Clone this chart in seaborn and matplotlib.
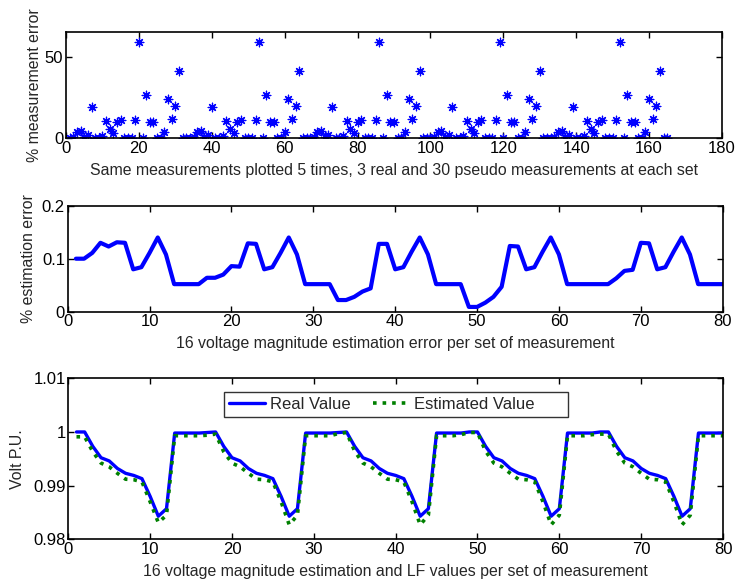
import numpy as np
import pandas as pd
import matplotlib
matplotlib.use("Agg")
import matplotlib.pyplot as plt
import seaborn as sns

# ---------------- data ----------------
# % measurement error of one set of 33 measurements (3 real + 30 pseudo)
set_errors = [0.0, 0.5, 4.0, 4.5, 0.5, 2.0, 19.0, 0.0, 0.0, 1.5,
              10.5, 6.0, 3.0, 10.0, 11.5, 0.0, 0.0, 0.0, 11.5, 59.0,
              0.0, 26.5, 10.0, 10.0, 0.0, 0.0, 4.0, 24.0, 12.0, 20.0,
              41.5, 0.0, 0.0]
n_repeats = 5

est_error = [0.100, 0.100, 0.111, 0.130, 0.123, 0.131, 0.130, 0.080, 0.084, 0.111,
             0.140, 0.108, 0.052, 0.052, 0.052, 0.052, 0.064, 0.064, 0.070, 0.086,
             0.085, 0.129, 0.128, 0.080, 0.084, 0.111, 0.140, 0.108, 0.052, 0.052,
             0.052, 0.052, 0.022, 0.022, 0.028, 0.038, 0.044, 0.128, 0.128, 0.080,
             0.084, 0.113, 0.140, 0.108, 0.052, 0.052, 0.052, 0.052, 0.009, 0.009,
             0.017, 0.028, 0.047, 0.124, 0.123, 0.080, 0.084, 0.113, 0.140, 0.108,
             0.052, 0.052, 0.052, 0.052, 0.052, 0.052, 0.063, 0.077, 0.079, 0.130,
             0.129, 0.080, 0.084, 0.113, 0.140, 0.108, 0.052, 0.052, 0.052, 0.052]

real_value = [1.0000, 1.0000,
              0.9973, 0.9952, 0.9946, 0.9932, 0.9923, 0.9919, 0.9913, 0.9880, 0.9843, 0.9857,
              0.9998, 0.9998, 0.9998, 0.9998, 0.9999, 1.0000,
              0.9973, 0.9952, 0.9946, 0.9932, 0.9923, 0.9919, 0.9913, 0.9880, 0.9843, 0.9857,
              0.9998, 0.9998, 0.9998, 0.9998, 0.9999, 1.0000,
              0.9973, 0.9952, 0.9946, 0.9932, 0.9923, 0.9919, 0.9913, 0.9880, 0.9843, 0.9857,
              0.9998, 0.9998, 0.9998, 0.9998, 1.0000, 1.0000,
              0.9973, 0.9952, 0.9946, 0.9932, 0.9923, 0.9919, 0.9913, 0.9880, 0.9843, 0.9857,
              0.9998, 0.9998, 0.9998, 0.9998, 1.0000, 1.0000,
              0.9973, 0.9952, 0.9946, 0.9932, 0.9923, 0.9919, 0.9913, 0.9880, 0.9843, 0.9857,
              0.9998, 0.9998, 0.9998, 0.9998]

estimated_value = [0.9991, 0.9991,
                   0.9963, 0.9942, 0.9935, 0.9923, 0.9912, 0.9911, 0.9907, 0.9870, 0.9831, 0.9845,
                   0.9993, 0.9993, 0.9993, 0.9993, 0.9994, 0.9996,
                   0.9963, 0.9942, 0.9935, 0.9923, 0.9912, 0.9911, 0.9907, 0.9870, 0.9827, 0.9845,
                   0.9993, 0.9993, 0.9993, 0.9993, 0.9997, 0.9999,
                   0.9964, 0.9942, 0.9935, 0.9923, 0.9912, 0.9911, 0.9907, 0.9870, 0.9827, 0.9845,
                   0.9993, 0.9993, 0.9993, 0.9995, 0.9999, 0.9999,
                   0.9964, 0.9942, 0.9935, 0.9923, 0.9912, 0.9911, 0.9907, 0.9870, 0.9827, 0.9845,
                   0.9993, 0.9993, 0.9993, 0.9995, 0.9996, 0.9996,
                   0.9964, 0.9942, 0.9935, 0.9923, 0.9912, 0.9911, 0.9907, 0.9870, 0.9827, 0.9845,
                   0.9993, 0.9993, 0.9993, 0.9993]

top_xticks = [0, 20, 40, 60, 80, 100, 120, 140, 160, 180]
top_yticks = [0, 50]
mid_xticks = [0, 10, 20, 30, 40, 50, 60, 70, 80]
mid_yticks = [0, 0.1, 0.2]
mid_yticklabels = ["0", "0.1", "0.2"]
bot_yticks = [0.98, 0.99, 1.0, 1.01]
bot_yticklabels = ["0.98", "0.99", "1", "1.01"]

# ---------------- style ----------------
sns.set_theme(style="white")
plt.rcParams["font.family"] = ["Liberation Sans", "DejaVu Sans"]
plt.rcParams["font.size"] = 12
LABEL_FS = 11.4
TICK_FS = 12

meas_errors = np.tile(np.array(set_errors), n_repeats)
df_top = pd.DataFrame({"x": np.arange(1, len(meas_errors) + 1), "err": meas_errors})
df_mid = pd.DataFrame({"x": np.arange(1, len(est_error) + 1), "err": est_error})
df_bot = pd.DataFrame({"x": np.arange(1, len(real_value) + 1),
                       "real": real_value, "est": estimated_value})

fig = plt.figure(figsize=(7.47, 5.79), dpi=100)
W, H = 747.0, 579.0


def axes_px(left, top, right, bottom):
    return fig.add_axes([left / W, 1 - bottom / H, (right - left) / W, (bottom - top) / H])


ax1 = axes_px(66, 32.3, 722, 138.3)
ax2 = axes_px(67.7, 205.7, 722.7, 311.7)
ax3 = axes_px(68.3, 378.3, 723, 539.3)


def matlab_style(ax):
    for s in ax.spines.values():
        s.set_visible(True)
        s.set_color("black")
        s.set_linewidth(1.2)
    ax.tick_params(axis="both", which="both", direction="in", top=True, right=True,
                   bottom=True, left=True, length=4.5, width=1.0, color="black",
                   labelsize=TICK_FS, labelcolor="black", pad=2)
    ax.grid(False)


# top panel
sns.scatterplot(data=df_top, x="x", y="err", ax=ax1, marker=(8, 2, 0), s=38,
                color="blue", edgecolor="blue", linewidth=0.9, legend=False)
ax1.set_xlim(0, 180)
ax1.set_ylim(0, 65)
ax1.set_xticks(top_xticks)
ax1.set_yticks(top_yticks)
ax1.set_xlabel("Same measurements plotted 5 times, 3 real and 30 pseudo measurements at each set",
               fontsize=LABEL_FS, labelpad=5)
ax1.set_ylabel("% measurement error", fontsize=LABEL_FS, labelpad=2)
matlab_style(ax1)

# middle panel
sns.lineplot(data=df_mid, x="x", y="err", ax=ax2, color="blue", linewidth=3.0)
ax2.set_xlim(0, 80)
ax2.set_ylim(0, 0.2)
ax2.set_xticks(mid_xticks)
ax2.set_yticks(mid_yticks)
ax2.set_yticklabels(mid_yticklabels)
ax2.set_xlabel("16 voltage magnitude estimation error per set of measurement",
               fontsize=LABEL_FS, labelpad=5)
ax2.set_ylabel("% estimation error", fontsize=LABEL_FS, labelpad=4)
matlab_style(ax2)

# bottom panel
sns.lineplot(data=df_bot, x="x", y="real", ax=ax3, color="blue", linewidth=2.4,
             label="Real Value")
sns.lineplot(data=df_bot, x="x", y="est", ax=ax3, color=(0, 0.5, 0), linewidth=2.6,
             linestyle=":", label="Estimated Value      ")
ax3.set_xlim(0, 80)
ax3.set_ylim(0.98, 1.01)
ax3.set_xticks(mid_xticks)
ax3.set_yticks(bot_yticks)
ax3.set_yticklabels(bot_yticklabels)
ax3.set_xlabel("16 voltage magnitude estimation and LF values per set of measurement",
               fontsize=LABEL_FS, labelpad=5)
ax3.set_ylabel("Volt P.U.", fontsize=LABEL_FS, labelpad=6)
matlab_style(ax3)
leg = ax3.legend(loc="upper center", bbox_to_anchor=(0.5, 0.915), ncol=2,
                 frameon=True, fancybox=False, shadow=False, fontsize=12,
                 handlelength=2.2, columnspacing=1.3, handletextpad=0.3,
                 borderpad=0.3, borderaxespad=0)
leg.get_frame().set_edgecolor("black")
leg.get_frame().set_linewidth(1.0)

fig.savefig("out.png", dpi=100)
